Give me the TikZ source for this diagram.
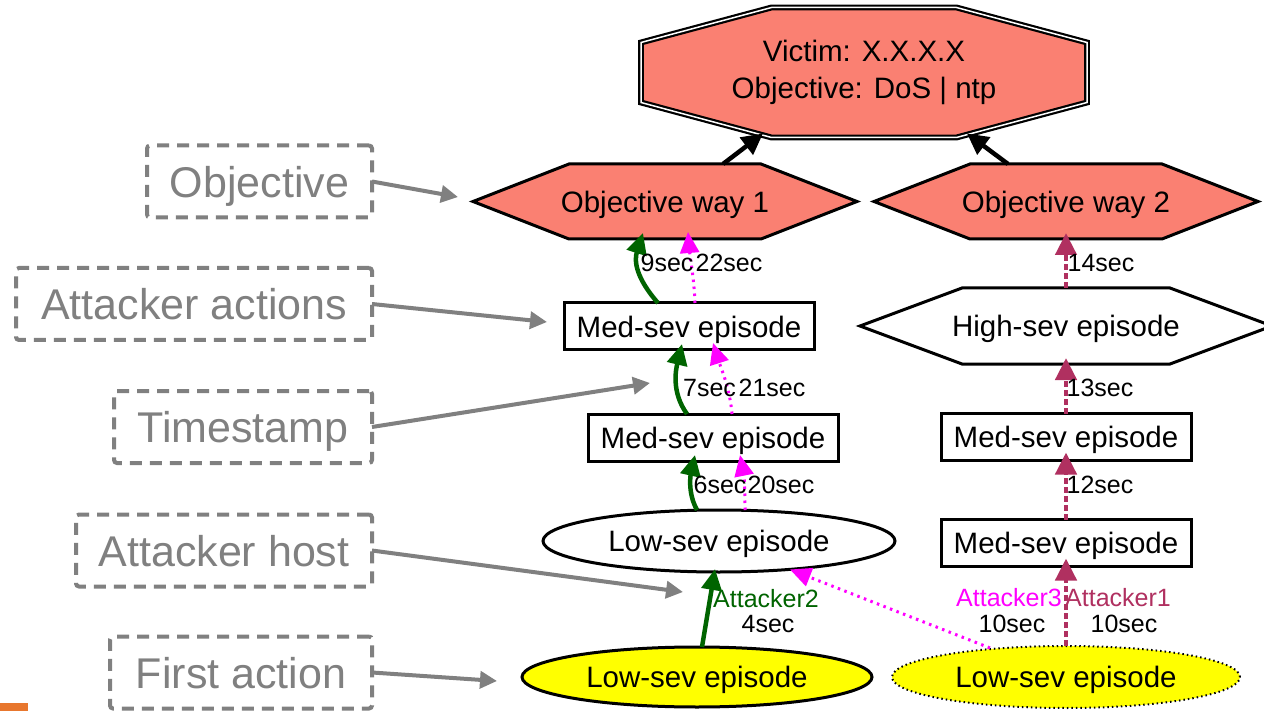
\documentclass[tikz,border=0pt]{standalone}
\usepackage{fontspec}
\setmainfont{Liberation Sans}
\usetikzlibrary{arrows.meta,shapes.geometric,backgrounds}

\definecolor{objfill}{HTML}{FA8072}
\definecolor{dkgreen}{HTML}{006400}
\definecolor{mag}{HTML}{FF00FF}
\definecolor{maroonc}{HTML}{B03060}
\definecolor{annogray}{HTML}{808080}
\definecolor{sevyellow}{HTML}{FFFF00}
\definecolor{logoorange}{HTML}{E8772E}

\begin{document}
\begin{tikzpicture}[x=1pt,y=-1pt,
  every node/.style={font=\fontsize{29.5}{37}\selectfont, inner sep=0pt, outer sep=0pt},
  octarea/.style={minimum width=446pt, minimum height=130pt, align=center},
  hexarea/.style={minimum width=#1, minimum height=75pt, text depth=0pt},
  polyline/.style={draw=black, line width=3pt},
  medbox/.style={draw, fill=white, line width=3pt, minimum width=250pt, minimum height=47pt, text depth=0pt},
  sevell/.style={ellipse, draw, line width=3pt, minimum width=352pt, minimum height=62pt, text depth=0pt},
  lab/.style={font=\fontsize{25}{29}\selectfont},
  anno/.style={draw=annogray, text=annogray, line width=4pt, dash pattern=on 12pt off 8pt,
               rounded corners=3pt, font=\fontsize{43}{49}\selectfont, minimum height=72pt, text depth=0pt},
  annoarrow/.style={draw=annogray, line width=4pt, -{Triangle[length=17pt,width=17pt]}},
  blk/.style={draw=black, line width=4.5pt, -{Triangle[length=21pt,width=21pt]}},
  grn/.style={draw=dkgreen, line width=4.5pt, -{Triangle[length=21pt,width=20pt]}},
  mgt/.style={draw=mag, line width=3pt, dash pattern=on 2.5pt off 4.5pt, -{Triangle[length=21pt,width=19pt]}},
  mrn/.style={draw=maroonc, line width=4.5pt, dash pattern=on 6pt off 3pt, -{Triangle[length=22pt,width=21pt]}}
]
\useasboundingbox (0,0) rectangle (1264,711);

% goal and objective ways
\node[octarea] (vic) at (864,72.5) {Victim: X.X.X.X\\Objective: DoS | ntp};
\node[hexarea=384pt] (o1) at (665,201.5) {Objective way 1};
\node[hexarea=384pt] (o2) at (1066,201.5) {Objective way 2};

% left chain
\node[medbox] (m1) at (689,326.5) {Med-sev episode};
\node[medbox] (m2) at (713,437.5) {Med-sev episode};
\node[sevell, fill=white] (lw) at (719,541) {Low-sev episode};
\node[sevell, fill=sevyellow, minimum width=350pt, minimum height=60pt] (yl) at (697,677) {Low-sev episode};

% right chain
\node[hexarea=412pt, minimum height=76pt] (hs) at (1066,326) {High-sev episode};
\node[medbox] (rm1) at (1066,437) {Med-sev episode};
\node[medbox] (rm2) at (1066,543) {Med-sev episode};
\node[sevell, fill=sevyellow, line width=2pt, dash pattern=on 1.5pt off 3pt,
      minimum width=348pt] (yr) at (1066,677) {Low-sev episode};

% polygon outlines behind the text
\begin{scope}[on background layer]
  \fill[white] (0,0) rectangle (1264,711);
  \fill[logoorange] (0,703) rectangle (28,711);
  \draw[draw=black, line width=2.2pt, double=white, double distance=1.5pt, fill=objfill]
    ([xshift=-92.5pt]vic.north) -- ([xshift=92.5pt]vic.north) -- ([yshift=30pt]vic.east)
    -- ([yshift=-30pt]vic.east) -- ([xshift=92.5pt]vic.south) -- ([xshift=-92.5pt]vic.south)
    -- ([yshift=-30pt]vic.west) -- ([yshift=30pt]vic.west) -- cycle;
  \draw[polyline, fill=objfill]
    ([xshift=-96pt]o1.north) -- ([xshift=96pt]o1.north) -- (o1.east)
    -- ([xshift=96pt]o1.south) -- ([xshift=-96pt]o1.south) -- (o1.west) -- cycle;
  \draw[polyline, fill=objfill]
    ([xshift=-96pt]o2.north) -- ([xshift=96pt]o2.north) -- (o2.east)
    -- ([xshift=96pt]o2.south) -- ([xshift=-96pt]o2.south) -- (o2.west) -- cycle;
  \draw[polyline, fill=white]
    ([xshift=-104pt]hs.north) -- ([xshift=104pt]hs.north) -- (hs.east)
    -- ([xshift=104pt]hs.south) -- ([xshift=-104pt]hs.south) -- (hs.west) -- cycle;
\end{scope}

% objective ways to the goal
\draw[blk] ([xshift=58pt]o1.north) -- ([xshift=-101pt,yshift=4pt]vic.south);
\draw[blk] ([xshift=-58pt]o2.north) -- ([xshift=103pt,yshift=4pt]vic.south);

% Attacker2 (green)
\draw[grn] ([xshift=5pt]yl.north) -- ([xshift=-4pt,yshift=3pt]lw.south);
\draw[grn] ([xshift=-22pt]lw.north) .. controls +(-10,-18) and +(-4,18) .. ([xshift=-18pt,yshift=6pt]m2.south);
\draw[grn] ([xshift=-26pt]m2.north) .. controls +(-16,-22) and +(-6,25) .. ([xshift=-7pt,yshift=6pt]m1.south);
\draw[grn] ([xshift=-31pt]m1.north) .. controls +(-22,-25) and +(-9,28) .. ([xshift=-22pt,yshift=6pt]o1.south);

% Attacker3 (magenta)
\draw[mgt] ([xshift=-76pt,yshift=-2pt]yr.north) -- ([xshift=71pt,yshift=2.5pt]lw.south);
\draw[mgt] ([xshift=26pt]lw.north) .. controls +(0,-20) and +(4,20) .. ([xshift=27pt,yshift=6pt]m2.south);
\draw[mgt] ([xshift=19pt]m2.north) .. controls +(-2,-25) and +(8,25) .. ([xshift=24pt,yshift=7pt]m1.south);
\draw[mgt] ([xshift=6pt]m1.north) .. controls +(-1,-25) and +(2,25) .. ([xshift=23pt,yshift=7pt]o1.south);

% Attacker1 (maroon)
\draw[mrn] (yr.north) -- ([yshift=8pt]rm2.south);
\draw[mrn] (rm2.north) -- ([yshift=8pt]rm1.south);
\draw[mrn] (rm1.north) -- ([yshift=6pt]hs.south);
\draw[mrn] (hs.north) -- ([yshift=6pt]o2.south);

% edge labels
\node[lab] (l9) at (667,263) {9sec};
\node[lab] (l22) at (729,263) {22sec};
\node[lab] (l7) at (709.5,388) {7sec};
\node[lab] (l21) at (772,388) {21sec};
\node[lab] (l6) at (720,485) {6sec};
\node[lab] (l20) at (781,485) {20sec};
\node[lab, text=dkgreen] (la2) at (766,599) {Attacker2};
\node[lab] (l4) at (768,624) {4sec};
\node[lab, text=mag] (la3) at (1009,598) {Attacker3};
\node[lab] (l10a) at (1012,624) {10sec};
\node[lab, text=maroonc] (la1) at (1118,598) {Attacker1};
\node[lab] (l10b) at (1124,624) {10sec};
\node[lab] (l14) at (1101,263) {14sec};
\node[lab] (l13) at (1100,388) {13sec};
\node[lab] (l12) at (1100,485) {12sec};

% legend boxes
\node[anno, minimum width=225pt] (a1) at (259.5,181.5) {Objective};
\node[anno, minimum width=356pt] (a2) at (194,304) {Attacker actions};
\node[anno, minimum width=258pt] (a3) at (243,427) {Timestamp};
\node[anno, minimum width=296pt] (a4) at (224,550.5) {Attacker host};
\node[anno, minimum width=262pt] (a5) at (241,672.5) {First action};

\coordinate (t1) at (458,197);
\coordinate (t2) at (547,322);
\coordinate (t3) at (650,383);
\coordinate (t4) at (683,592);
\coordinate (t5) at (497,681);

\draw[annoarrow] (a1.east) -- (t1);
\draw[annoarrow] (a2.east) -- (t2);
\draw[annoarrow] (a3.east) -- (t3);
\draw[annoarrow] (a4.east) -- (t4);
\draw[annoarrow] (a5.east) -- (t5);
\end{tikzpicture}
\end{document}
